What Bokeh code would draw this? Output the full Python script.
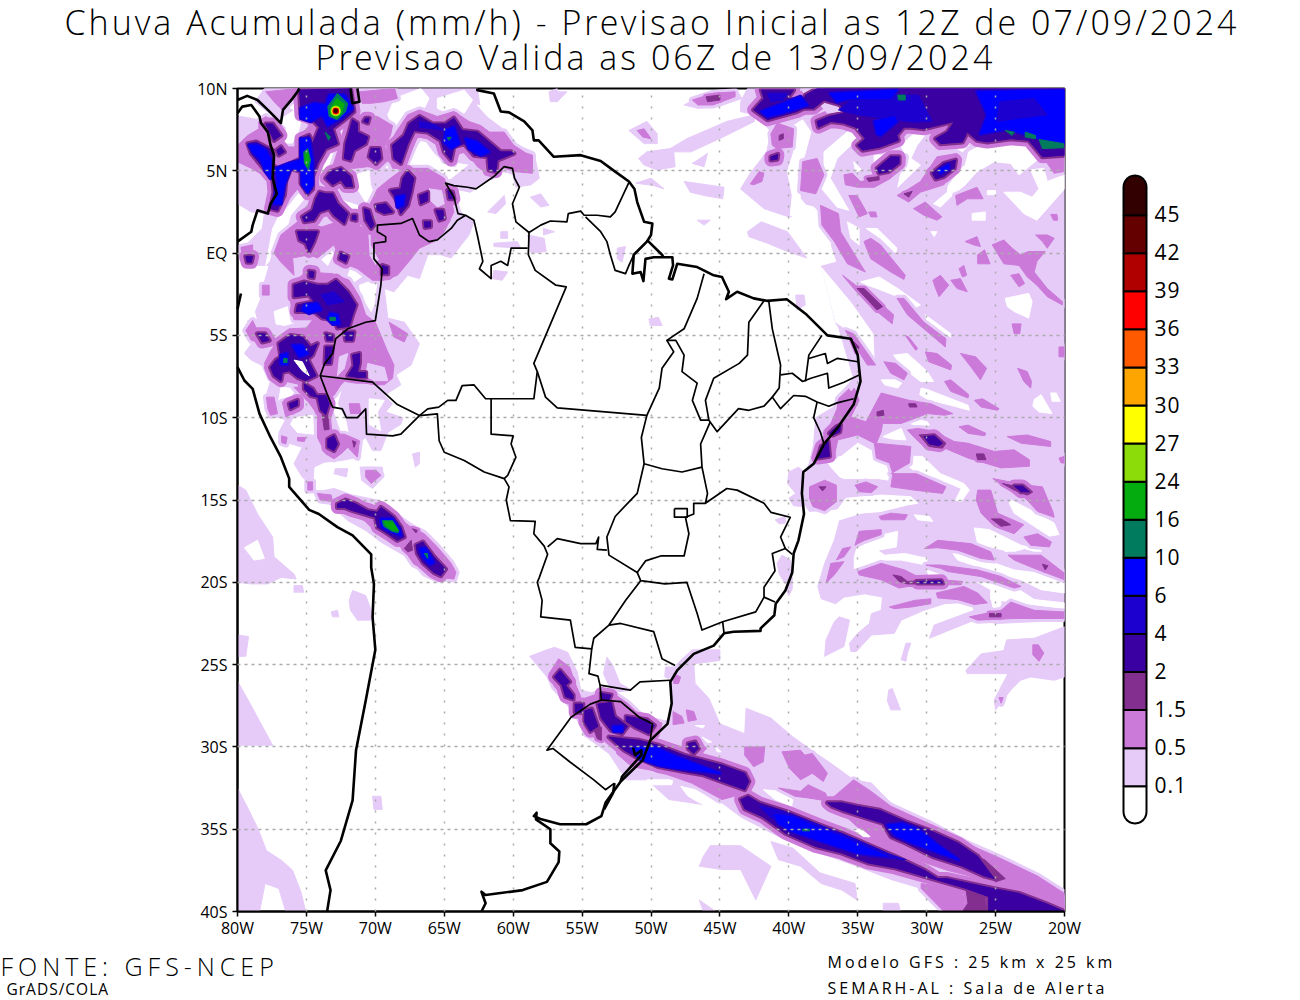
from bokeh.plotting import figure
from bokeh.models import FixedTicker, Label
from bokeh.embed import file_html
from bokeh.resources import INLINE
import math

TITLE_1 = "Chuva Acumulada (mm/h) - Previsao Inicial as 12Z de 07/09/2024"
TITLE_2 = "Previsao Valida as 06Z de 13/09/2024"
X_TICKS = list(range(-80, -19, 5))
X_LABELS = ["80W","75W","70W","65W","60W","55W","50W","45W","40W","35W","30W","25W","20W"]
Y_TICKS = list(range(-40, 11, 5))
Y_LABELS = ["40S","35S","30S","25S","20S","15S","10S","5S","EQ","5N","10N"]
LEVEL_LABELS = ["0.1","0.5","1.5","2","4","6","10","16","24","27","30","33","36","39","42","45"]
LEVEL_COLORS = ["#ffffff","#e6cbf9","#cc7ad9","#832f90","#3a00a2","#1c00d0","#0000ff","#007b5e","#05ac10",
                "#8bdc08","#ffff00","#ffa500","#ff5a00","#ff0000","#b00000","#640000","#320000"]
WHITE, LIGHT, MED, DARK, INDIGO, ROYAL, BLUE, TEAL, GREEN, LIME, YELLOW, ORANGE, DORANGE, RED, CRIM, MAROON, BLACKRED = LEVEL_COLORS

COAST = [
 [(-80,9.3),(-79.3,9.55),(-78.55,9.3),(-77.8,8.7),(-76.85,7.9),(-76.7,8.7),(-76,9.4),(-75.65,9.8),(-75.5,10)],
 [(-80,8.5),(-79.65,8.9),(-79,9),(-78.4,8.3),(-78.3,7.9),(-77.8,7.35),(-77.6,6.55),(-77.35,5.95),(-77.45,4.55),(-77.15,3.6),(-77.6,3),(-77.8,2.4),(-78.55,2.6),(-78.9,1.7),(-79,1.3),(-80,.7)],
 [(-71.8,10),(-71.65,9.1),(-71.15,9.2),(-71.3,10)],
 [(-79.75,-2.45),(-80,-3.4)],
 [(-80,-6.93),(-79.5,-7.74),(-78.9,-8.25),(-78.4,-9.77),(-77.6,-11.2),(-76.85,-12.4),(-76.25,-13.7),(-76.25,-14.2),(-74.8,-15.6),(-74.1,-15.85),(-72.75,-16.65),(-71.65,-17.15),(-70.3,-18.3),(-70.3,-19.1),(-70.1,-20.1),(-70.2,-22.1),(-70,-24.1),(-70.7,-27.2),(-71.4,-30.2),(-71.65,-33.25),(-72.5,-35.7),(-73.6,-37.5),(-73.25,-38.7),(-73.5,-40)],
 [(-62.6,10),(-62.6,9.9),(-61.4,9.7),(-60.9,8.6),(-60.3,8.55),(-59.2,8),(-58.6,7.45),(-58.5,6.85),(-58.15,6.85),(-57.05,5.85),(-55.1,5.95),(-53.65,5.6),(-52.6,4.95),(-51.6,4.35),(-51.2,3.9),(-51,3.1),(-50.5,1.9),(-49.9,1.8),(-50,1.1),(-50.3,.7),(-51.25,-.1),(-51.35,-1.25),(-50.75,-1.15),(-50.55,-1.7),(-50.4,-.35),(-49.8,-.25),(-48.45,-.25),(-48.4,-.75),(-48.7,-1.55),(-48.45,-1.6),(-48.1,-.65),(-46.65,-.85),(-45.45,-1.35),(-44.85,-1.45),(-44.35,-2.35),(-44.55,-2.8),(-43.75,-2.35),(-42.55,-2.75),(-41.6,-2.9),(-40.15,-2.8),(-38.7,-3.75),(-37.2,-5),(-35.5,-5.2),(-35,-6.2),(-34.8,-7.8),(-35.3,-9.2),(-36.5,-10.65),(-37.45,-11.6),(-38.2,-12.8),(-38.95,-13.3),(-39.05,-14.6),(-38.9,-15.85),(-39.3,-17.45),(-39.65,-18.25),(-39.75,-19.4),(-40.25,-20.5),(-40.95,-21.3),(-41.05,-22),(-42.05,-22.8),(-42.05,-22.95),(-44,-23),(-44.7,-23.1),(-45.45,-23.85),(-46.9,-24.35),(-48.1,-25.35),(-48.6,-26.05),(-48.5,-27.36),(-48.8,-28.6),(-50.05,-29.6),(-50.6,-30.8),(-52.2,-32.1),(-53.3,-33.4),(-53.6,-34.2),(-54.7,-34.7),(-56.6,-34.7),(-57.95,-34.4),(-58.5,-34.2),(-58.3,-34),(-58.35,-34.4),(-57.3,-35),(-57.3,-35.85),(-56.65,-36.35),(-56.7,-37),(-57.55,-38.2),(-59.3,-38.7),(-62,-39),(-62.3,-38.8),(-62,-39.5),(-62.3,-40)],
 [(-50.3,.8),(-49.2,-.1),(-49.1,-.25)],
 [(-51.3,-30.05),(-51.15,-30.5),(-50.7,-30.2),(-50.7,-30.5),(-51.45,-31.2),(-52.1,-31.8),(-52.2,-32.1)],
 [(-52.65,-32.2),(-52.75,-32.8),(-53.4,-33.8)],
]
BORDERS = [
 [(-51.6,4.3),(-52.6,2.5),(-52.95,2.2),(-53.9,2.3),(-54.85,2.3),(-55.1,2.55),(-56,2.4),(-56.1,1.9),(-57.3,1.95),(-58,1.7),(-58.85,1.25),(-59.8,1.9),(-60.05,3),(-59.55,4),(-59.9,4.55),(-60.05,5.15),(-60.65,5.25),(-61.4,4.65),(-62.7,3.9),(-63.3,4),(-64.3,4.1),(-64.9,4.25),(-64.3,3.4),(-64,2.4),(-63.45,2.3),(-64.05,2),(-64.5,1.5),(-65.5,.8),(-66.1,.7),(-66.8,1.1),(-67.3,2.1),(-68.15,1.8),(-69.85,1.7),(-69.85,1.3),(-69.25,1),(-69.25,.7),(-70.1,.6),(-70.1,-.35),(-69.5,-.95),(-69.6,-1.95),(-70,-4.1),(-70.7,-4.2),(-72,-4.6),(-72.87,-5.2),(-73.1,-6.1),(-73.7,-6.75),(-74,-7.45),(-73.5,-8.55),(-73.1,-9.36),(-72.4,-9.46),(-72.1,-10),(-71.3,-10),(-70.7,-9.46),(-70.64,-11),(-68.75,-11.1),(-68.15,-11),(-66.8,-9.87),(-65.5,-9.77),(-65.37,-11.4),(-65,-12.1),(-63.55,-12.6),(-62.1,-13.3),(-60.65,-13.7),(-60.3,-14.2),(-60.5,-15),(-60.2,-16.25),(-58.4,-16.3),(-58.5,-17.05),(-57.75,-17.8),(-57.5,-18.3),(-58.1,-19.7),(-58.25,-20),(-57.9,-21.1),(-58,-22.1),(-55.85,-22.3),(-55.5,-23.95),(-54.3,-24.05),(-54.5,-25.55),(-53.85,-25.7),(-53.7,-26.25),(-53.6,-27.15),(-54.4,-27.4),(-55.8,-28.2),(-57.55,-30.2),(-57.1,-30.1),(-55.9,-30.9),(-54.15,-32),(-53.3,-32.6),(-52.65,-32.2)],
 [(-63.45,2.3),(-62.85,2),(-62.6,1.1),(-62.2,-.5),(-62.45,-.95),(-61.6,-1.55),(-61.6,-.75),(-60.9,-.5),(-60.4,-.75),(-60.15,.3),(-58.95,.3)],
 [(-58.85,1.25),(-58.9,-.1),(-58.4,-1.05),(-56.9,-1.95),(-56.15,-2.05),(-58.5,-6.7),(-58.25,-7.2),(-58.5,-8.85),(-62,-8.85),(-62.85,-8),(-63.7,-8.05),(-64.15,-8.95),(-64.75,-8.95),(-65.4,-9.36),(-66.2,-9.46),(-66.8,-9.87)],
 [(-74,-7.45),(-70.2,-7.84),(-68.4,-9.2),(-66.8,-9.87)],
 [(-61.6,-8.85),(-61.6,-11),(-60,-11.1),(-60.15,-11.6),(-59.8,-12.4),(-60.4,-13.5),(-60.65,-13.7)],
 [(-58.25,-7.2),(-57.65,-8.75),(-56.8,-9.4),(-50.3,-9.86),(-49.4,-8.2),(-49.2,-7),(-48.35,-6),(-48.85,-5.3),(-47.6,-4.6),(-46.65,-2.75),(-46.15,-1.25)],
 [(-54.75,2.2),(-53.65,1.3),(-53.2,.7),(-52.95,-.1),(-52.6,-1.05),(-51.85,-1.25),(-51.6,-.75),(-51.25,-.1)],
 [(-48.85,-5.3),(-48.2,-5.3),(-47.6,-6.2),(-47.75,-7.2),(-46.65,-7.9),(-47,-8.95),(-46.4,-10.15),(-45.8,-10.15)],
 [(-41.8,-2.9),(-42.9,-4.2),(-43,-6.2),(-43.6,-6.7),(-45.45,-7.6),(-46.05,-8.95),(-45.8,-10.15)],
 [(-41.45,-2.95),(-41.2,-4.6),(-40.6,-6.8),(-40.7,-8.2),(-41.2,-8.75)],
 [(-45.8,-10.15),(-45.2,-10.85),(-43.65,-9.45),(-42.9,-9.55),(-41.8,-9.3),(-41.2,-8.75),(-40.6,-9.45),(-39.65,-8.65),(-38.8,-8.7),(-37.95,-9.05),(-37.1,-9.3),(-36.5,-9.1),(-35.3,-8.85)],
 [(-40.6,-7.4),(-39.75,-7.3),(-39,-7.8),(-38.4,-7.6),(-37.2,-7.3),(-37.1,-8.2),(-36,-7.85),(-34.9,-7.4)],
 [(-38.8,-7.8),(-38.55,-6.2),(-37.6,-5)],
 [(-38.55,-6.4),(-37.35,-6.1),(-37.2,-6.7),(-36.5,-6.4),(-35,-6.6)],
 [(-37.95,-9.05),(-38.2,-10),(-37.7,-10.9),(-37.45,-11.6)],
 [(-45.7,-10.25),(-46.4,-11.6),(-46.3,-13),(-45.9,-14.6),(-46.05,-15.2),(-44.5,-14.3),(-43.75,-14.4),(-41.8,-15.2),(-41.3,-15.75),(-39.9,-16.05),(-40.6,-17.25),(-40.25,-17.95),(-39.75,-18.3)],
 [(-50.3,-9.86),(-50.7,-11.2),(-50.5,-12.8),(-51,-14.6),(-51.7,-15.2),(-52.6,-16),(-53.2,-17.25),(-53.05,-18.35),(-51,-19.4),(-50.4,-18.7),(-49.3,-18.4),(-47.6,-18.4),(-47.25,-17.05),(-47.5,-16.05),(-46.9,-15.85),(-46.9,-15.2),(-46.05,-15.2)],
 [(-50.5,-12.8),(-49.2,-13.1),(-47.75,-13.3),(-46.3,-13)],
 [(-40.25,-17.95),(-41.2,-18.25),(-41,-19.3),(-41.8,-20.3),(-41.8,-20.9),(-42.4,-21.8),(-44.8,-22.4),(-46.3,-22.9),(-46.65,-21.9),(-47.4,-20),(-49,-20.1),(-50.75,-19.9),(-51,-19.4)],
 [(-41.8,-20.9),(-41,-21.2)],
 [(-44.8,-22.4),(-44.7,-23.1)],
 [(-50.75,-19.9),(-51.85,-21.1),(-53.05,-22.6),(-54.15,-23.4),(-54.3,-24.05)],
 [(-53.05,-22.6),(-52.2,-22.5),(-49.8,-23),(-49.2,-24.65),(-48.25,-25.05)],
 [(-57.5,-17.85),(-56.8,-17.35),(-55.1,-17.65),(-54,-17.65),(-53.8,-17.25),(-53.9,-18),(-53.2,-18.05)],
 [(-53.7,-26.25),(-51.5,-26.55),(-50.8,-26.05),(-48.6,-25.95)],
 [(-53.6,-27.15),(-52.2,-27.25),(-50.85,-28.2),(-49.9,-28.6),(-50.05,-29.6)],
 [(-48.3,-15.53),(-47.37,-15.53),(-47.37,-16.04),(-48.3,-16.04),(-48.3,-15.53)],
]

LIGHT_SHAPES = [
 [(-43,10),(-20,10),(-20,-22.3),(-24.85,-22.5),(-26.55,-22.3),(-29.8,-23.4),(-29.45,-22.6),(-26.55,-21.7),(-26.8,-21.2),(-28.7,-21.3),(-30.2,-21.7),(-31.85,-22.3),(-32.35,-23.1),(-34,-23.2),(-35.1,-24.2),(-35.5,-24.2),(-35.6,-23.7),(-35,-23.1),(-34.15,-22.5),(-34,-21.9),(-33.3,-21.7),(-33.2,-20.9),(-34.5,-20.7),(-36,-20.9),(-36.6,-21.3),(-37.65,-21),(-37.9,-20.25),(-37.4,-18.85),(-36.7,-17.45),(-36.3,-16.2),(-36,-15.5),(-38.5,-15.7),(-38.9,-15.2),(-38.9,-13.8),(-38.6,-12.9),(-37.65,-11.75),(-37.4,-11.4),(-36.4,-10.5),(-35.3,-9.2),(-34.8,-7.8),(-35,-6.2),(-36.6,-4.25),(-37.6,-.85),(-38.8,1),(-38.8,2.3),(-40,2.2),(-41.8,2.7),(-43.5,3.9),(-42.8,4.85),(-41.6,6.15),(-41.3,7.4),(-42.5,8.4),(-43.5,8.6),(-43.5,9.2)],
 [(-43,1.3),(-42,1.9),(-40.1,1.3),(-38.7,-.3),(-40.1,.1),(-41.55,.6),(-42.9,1)],
 [(-47.6,9),(-46.2,9.6),(-43.8,9.9),(-43.4,9.4),(-45.1,8.9),(-46.6,8.8)],
 [(-50.9,5.75),(-50.3,6.15),(-48.6,6.35),(-47.4,6.95),(-44.5,8),(-42.5,8.4),(-42.5,8),(-44.9,7),(-47.1,6.15),(-48.35,6.15),(-48.25,5.25),(-49.55,5.05),(-50.5,5.35)],
 [(-47,5.45),(-45.9,6.05),(-46.15,5.25)],[(-47.6,4.35),(-44.7,4),(-44.8,3.3),(-46.15,3.5),(-47.15,3.7)],
 [(-46.65,2),(-45.7,2),(-46.15,1.7)],[(-51.6,7.45),(-50.3,8),(-49.55,7.25),(-49.55,6.65),(-50.5,6.65)],
 [(-51.1,4.25),(-50,4.55),(-49.05,3.9),(-49.8,4.1)],[(-50.15,-4),(-49.45,-3.9),(-49.2,-4.4),(-50.05,-4.4)],
 [(-57.3,9.8),(-56.1,9.8),(-56.8,9.2),(-57.3,9.3)],[(-39.5,-2.55),(-38.9,-2.55),(-38.8,-3.15),(-39.4,-3.45)],
 [(-36.5,-4.2),(-35.5,-4.8),(-33.8,-6.6),(-34.6,-8),(-35.3,-7.6)],
 [(-37.7,-10.9),(-36.8,-9.45),(-36.3,-8.55),(-35.3,-7.6),(-34.9,-7.8),(-35.3,-9.2),(-36.5,-10.7)],
 [(-38.05,-10),(-36.75,-9.35),(-36.25,-8.95),(-36.25,-10.35),(-37.2,-11.3),(-38.05,-11.8),(-38.2,-12.8),(-38.55,-12.9),(-38.2,-11.6)],
 [(-40,-13.3),(-39.3,-13),(-38.9,-13.3),(-39.15,-14.8),(-39.05,-15.4),(-39.65,-15.35),(-40,-14.9),(-39.5,-14.6),(-40.1,-14)],
 [(-41,-16.2),(-40.25,-16),(-40.25,-16.4),(-40.7,-16.45)],
 [(-40.85,-18.85),(-40.5,-18.35),(-39.9,-18.65),(-39.75,-19.5),(-40.25,-20.1),(-40.7,-19.5)],
 [(-40.25,-20.3),(-39.75,-19.7),(-39.75,-20.4),(-40,-20.8)],
 [(-37.4,-24.5),(-37.3,-23.5),(-36.7,-22.4),(-36.35,-22.1),(-35.6,-22.3),(-36,-23.9),(-36.95,-24.3)],
 [(-31.85,-24.7),(-31.5,-23.7),(-31.15,-23.7),(-31.4,-24.3),(-31.5,-24.8)],
 [(-27.15,-25.35),(-26.05,-24.35),(-24.4,-24.15),(-24.2,-23.5),(-22.2,-23.4),(-20,-22.7),(-20,-25.75),(-20.75,-25.95),(-22.45,-25.75),(-23.2,-25.95),(-23.85,-26.5),(-25,-27.75),(-25.1,-27.15),(-24.1,-25.55),(-26.05,-25.55),(-27.05,-25.55)],
 [(-32.75,-26.55),(-32.5,-26.45),(-31.9,-27.75),(-32.6,-27.75),(-32.85,-27.2)],
 [(-48.4,-25.35),(-48,-24.85),(-47,-24.1),(-45,-24.1),(-45,-24.75),(-46.9,-24.95),(-46.8,-26.15),(-45.8,-27.05),(-45,-28.6),(-43.2,-29.2),(-43.1,-27.65),(-41.3,-28.25),(-39.7,-29.4),(-38,-30.4),(-36.95,-31),(-35.3,-32),(-34,-32.2),(-32.6,-33.4),(-29.85,-34.55),(-27.15,-35.65),(-24.7,-36.65),(-22.25,-37.65),(-20,-39.05),(-20,-40),(-28.75,-40),(-30.4,-38.6),(-32.6,-38.05),(-35.05,-37.25),(-37.75,-36.45),(-40.75,-35.45),(-43.5,-34.25),(-44.85,-33.4),(-46.25,-33.5),(-48.7,-33.2),(-50.3,-32),(-51.7,-32),(-50.6,-30.8),(-50,-29.5),(-48.8,-28.6),(-48.5,-27.3)],
 [(-58.8,-24.5),(-57.55,-24.1),(-57,-23.95),(-56.05,-24.25),(-55.35,-25.45),(-55.1,-26.55),(-54.15,-26.75),(-53.6,-26.45),(-52.9,-26.65),(-52.9,-27.15),(-51.7,-27.35),(-50.7,-28.15),(-49.5,-28.6),(-48.55,-28.25),(-48.8,-30),(-50.6,-31),(-51.8,-32),(-53.05,-30.4),(-54.7,-29.4),(-55.9,-27.55),(-57.15,-26.15)],
 [(-53.45,-25.55),(-53.2,-24.55),(-52.8,-25),(-52.25,-26.15),(-51.4,-26.55),(-52.25,-26.65),(-52.9,-26.55)],
 [(-48.95,-25.15),(-48.25,-25.15),(-48.7,-25.85),(-49,-25.75)],
 [(-45.7,-36),(-43.5,-36),(-41.3,-37.25),(-42.4,-39.3),(-43.5,-37.45),(-44.85,-37.45),(-46.5,-37.25),(-46.2,-36.65)],
 [(-41.3,-35.75),(-39.7,-36.15),(-37.75,-37.65),(-35.2,-38.3),(-35.05,-39.3),(-36.15,-38.7),(-37.65,-38.3),(-39.15,-37.25),(-40.75,-36.85)],
 [(-46.5,-39.3),(-45.3,-40),(-46.2,-40)],[(-33.15,-39.5),(-32.05,-39.5),(-31.9,-40),(-33.15,-40)],
 [(-80,-14.1),(-79.4,-14.4),(-78.55,-15.85),(-77.45,-17.25),(-77.35,-18.45),(-75.9,-19.5),(-75.75,-19.8),(-76.85,-19.7),(-77.8,-20.1),(-79,-20.1),(-80,-20)],
 [(-75.9,-20.2),(-75.3,-20.2),(-75.2,-20.6),(-75.9,-20.6)],
 [(-71.9,-21.1),(-71.65,-20.5),(-70.7,-20.8),(-70.3,-21.7),(-70.3,-22.3),(-71.3,-22.3),(-71.8,-21.7)],
 [(-73.2,-21.8),(-72.75,-21.7),(-72.65,-22.1),(-73.1,-22.1)],
 [(-80,-26),(-79.2,-27.2),(-77.45,-29.9),(-80,-29.9)],[(-80,-23.2),(-79.2,-23.3),(-79.4,-24.5),(-80,-24.5)],
 [(-80,-32.5),(-79.2,-33.8),(-78.5,-35),(-77.9,-36.3),(-76.8,-36.9),(-76,-37.5),(-75.4,-38.8),(-75.05,-40),(-76.5,-40),(-77,-38.6),(-78,-38.3),(-78.4,-40),(-80,-40)],
 [(-70.2,-33),(-69.6,-33),(-69.5,-33.8),(-70.1,-33.8)],
 [(-74.2,-14.5),(-73,-14.3),(-71.65,-14.7),(-69.85,-15),(-68.4,-15.85),(-67.4,-16.65),(-66.2,-17.25),(-64.9,-18.45),(-64.05,-19.3),(-64.05,-19.7),(-65.5,-20),(-66.55,-19.6),(-67.65,-18.5),(-69.6,-17.55),(-70.7,-16.85),(-72,-16.25),(-73.35,-15.25),(-74.2,-14.85)],
 [(-72.9,-13.1),(-72,-13.1),(-72.1,-13.6),(-73,-13.4)],
 [(-71.1,-13),(-69.5,-13),(-69.4,-13.6),(-70.2,-14.3),(-71,-13.8)],
 [(-67.3,-12.2),(-66.8,-12.1),(-66.8,-12.8),(-67.1,-13)],
 [(-78.05,10),(-62.6,10),(-62.4,8.9),(-60.65,7.8),(-59.7,6.55),(-58.5,6.15),(-58.1,4.55),(-58.7,4.15),(-59.8,4),(-60.05,4.85),(-60.9,4.95),(-62.2,4.25),(-63.1,3.7),(-64.3,3.9),(-63.8,2.5),(-62.85,1.9),(-63.2,1.1),(-64.5,-.3),(-65.25,-.1),(-66.2,-.1),(-66.8,-1.55),(-67.65,-1.35),(-68.65,-2.35),(-69.35,-2.15),(-69.1,-3.95),(-67.9,-4.2),(-66.8,-5.5),(-67.4,-6.8),(-68.5,-7.4),(-68.15,-8),(-69.35,-8.65),(-68.75,-9.15),(-69.25,-9.65),(-68,-10),(-68.15,-10.4),(-69.1,-10.9),(-69.6,-12),(-70.2,-12),(-70.7,-11.2),(-71.3,-11.6),(-71.15,-12.4),(-72.5,-12.6),(-73.7,-12.7),(-74.45,-13),(-74.55,-14.2),(-75.3,-13.6),(-75.9,-12.8),(-75.3,-11.8),(-76.85,-11.4),(-77,-10.9),(-76.5,-10.1),(-77.8,-9.85),(-77.95,-8.75),(-77.6,-7.75),(-77.8,-7),(-79,-6.5),(-79.5,-6.1),(-78.9,-5.4),(-79.4,-5.1),(-79.25,-4.1),(-78.55,-4),(-78.7,-3.55),(-78.2,-2.55),(-78.05,-1.75),(-77.7,-.75),(-79,-.75),(-79.65,-.35),(-79.15,.7),(-78.2,1.5),(-78.05,2.4),(-79,2.5),(-80,3),(-80,8.2),(-79.3,8.5)],
 [(-58.75,3.4),(-58,3.6),(-57.4,2.9),(-58,2.8)],[(-61.85,2.5),(-60.65,3.5),(-60.55,3),(-61.25,2.4)],
 [(-61.4,.6),(-59.7,.7),(-59.45,.3),(-61.4,.4)],[(-58.95,1.1),(-57.75,.9),(-57.6,.1),(-58.7,0)],
 [(-61.4,-1.05),(-60.4,-1.15),(-60.8,-1.65),(-61.5,-1.55)],[(-52.45,.3),(-51.85,.4),(-52.1,-.55),(-52.45,-.35)],
 [(-57.8,1.5),(-57,1.3),(-57.8,1.1)],[(-60.9,1.3),(-60.4,1.3),(-60.4,.9),(-60.9,.9)],
 [(-57.4,9.8),(-56.8,10),(-56.8,9.2),(-57.3,9.2)],
]

WHITE_GAPS = [
 [(-76.15,9.2),(-74.8,9.5),(-74.55,9.1),(-75.65,8.6),(-76.15,8.8)],
 [(-80,9.3),(-79,9.3),(-77.8,8.5),(-76.85,7.8),(-78.05,8.1),(-80,8.4)],
 [(-76.75,8.2),(-75.65,8.8),(-75.4,8),(-75.65,7.15),(-76.25,6.45),(-76.85,6.95),(-77,7.75)],
 [(-72,7.4),(-72.75,6.15),(-73.6,4.95),(-74.3,4.15),(-74.05,5.15),(-73,6.55),(-72.25,7.75)],
 [(-75.75,3.7),(-75.15,3.3),(-76.15,2.3),(-76.5,1.3),(-77.35,.5),(-77.7,-.5),(-77.95,-.75),(-77.45,1.5),(-76.85,2.5),(-76.35,2.9)],
 [(-68.6,9.4),(-66.7,10),(-66.1,9.4),(-66.45,8.8),(-67.4,8.4),(-68.6,7.4),(-69.1,8.4)],
 [(-65.5,9.4),(-63.55,9.9),(-62.95,9.3),(-63.55,8.5),(-65,8.6),(-65.5,8.8)],
 [(-62.6,9),(-60.9,8.6),(-60.3,7.75),(-59.8,6.55),(-60.65,7.55),(-61.85,8.3)],
 [(-67.55,5.75),(-66.55,6.95),(-65.75,6.05),(-65,5.45),(-64.05,5.45),(-63.3,5.35),(-64.5,4.55),(-65.25,4.35),(-65.75,5.15),(-66.95,5.25),(-67.8,5.25)],
 [(-69.3,6.1),(-68.9,5.95),(-69.1,5.15),(-69.6,5.45)],[(-71.4,4.75),(-70.45,5.05),(-70.35,4.15),(-69.95,3.2),(-70.7,3.1),(-71.3,3.9)],
 [(-73.95,1.1),(-73,1.7),(-72,1.3),(-71.55,1),(-71.65,.5),(-72.75,.5),(-73.45,-.75),(-73.95,-.35)],
 [(-72.75,3.3),(-71.3,2.9),(-70.8,2.1),(-71.55,2.7),(-72.25,2.8)],[(-67.3,2.7),(-66.6,2.2),(-66.35,1.3),(-66.95,1.7)],
 [(-68.65,.8),(-68.4,.5),(-68.75,-.3),(-69,.1)],[(-71.15,-1.95),(-69.85,-1.55),(-70.1,-3.15),(-70.3,-3.55),(-71.05,-2.55)],
 [(-77.35,-3.55),(-76.35,-3.25),(-75.75,-4.2),(-76.6,-4.4),(-77.2,-4.3)],[(-71.65,-.65),(-70.7,-1.25),(-71.55,-1.75),(-72,-1.35)],
 [(-76.85,-8.15),(-75.75,-8.25),(-76.25,-8.85),(-76.6,-9.55),(-77,-8.95)],
 [(-73.2,-8.15),(-72.5,-8.35),(-72.75,-9.15),(-72.15,-10.15),(-71.9,-11.2),(-72.5,-10.8),(-73.1,-9.35)],
 [(-75.9,-10),(-74.55,-9.85),(-74.45,-11),(-75.65,-10.9),(-76.15,-10.4)],[(-70.45,-8.85),(-69.35,-8.95),(-69.85,-9.65),(-69.6,-10.8),(-70.45,-10.4)],
 [(-79.5,-17.9),(-78.55,-17.45),(-78.05,-18.55),(-78.8,-18.65)],
 [(-39,8.1),(-38.4,7.35),(-38.85,5.95),(-39.4,4.75),(-39.15,3.3),(-38.55,2.7),(-39.65,2.2),(-39.9,2.3),(-39.75,3.5),(-40.1,4.95),(-39.65,6.15),(-39.65,7.75)],
 [(-37.45,6.15),(-35.5,7.55),(-35,6.95),(-36.5,5.75),(-37,4.55),(-35.65,2.6),(-36.5,2.8),(-37.7,4),(-37.45,5.15)],
 [(-39.15,3),(-38.2,2.8),(-36.5,1.3),(-37,.5),(-36.6,-.5),(-37.7,-.75),(-38.55,-.2),(-39.75,1.4),(-40.6,1.5),(-40.6,2.1),(-39.65,2.1)],
 [(-35.75,1.9),(-34.9,1.5),(-34.9,.5),(-35.5,.9)],[(-34.4,1.5),(-33.6,1.5),(-32.15,.3),(-32.25,0),(-33.35,.9)],
 [(-35.3,5.55),(-34.7,5.05),(-35.15,4.95)],[(-33.8,5.95),(-33.1,5.95),(-33.1,5.45),(-33.8,5.45)],
 [(-31.9,6.55),(-30.2,7.75),(-29.95,7.35),(-30.7,6.55),(-31.15,5.75),(-30.45,5.35),(-32.1,4),(-31.8,5.15),(-31.4,5.75)],
 [(-27.8,6.35),(-27.3,6.85),(-26.95,6.55),(-27.4,6.15)],
 [(-29.5,3),(-28.5,3.7),(-28.4,4.45),(-27.2,5.35),(-26.95,6.15),(-25.85,6.65),(-24.65,6.85),(-22.6,6.45),(-21.85,5.75),(-23.3,4.75),(-23.9,5.45),(-25.1,5.55),(-26.35,4.95),(-27.2,4.15),(-28.15,3.5),(-29,2.8)],
 [(-24.4,3.7),(-23.2,3.7),(-22.35,3.4),(-21.85,3.9),(-22.45,5.05),(-21.5,5.15),(-21.25,4.35),(-20,4.75),(-20,3.9),(-22,2),(-22.95,2.4)],
 [(-26.7,2.4),(-25.75,2.5),(-25.75,2),(-26.7,2)],[(-25.6,3.8),(-25,3.8),(-25,3.55),(-25.6,3.55)],[(-29.7,1.3),(-29.25,1.3),(-29.45,1)],
 [(-24.3,-2.75),(-22.6,-2.45),(-22.35,-2.95),(-22.6,-3.95),(-23.65,-3.55),(-24.15,-3.25)],
 [(-34.8,-1.75),(-33.45,-1.45),(-32.1,-2.15),(-30.45,-3.15),(-30.95,-3.35),(-32.4,-2.55),(-33.6,-2.15),(-34.3,-1.95)],
 [(-30.1,-3.75),(-28.25,-4.9),(-28.25,-5.1),(-29.95,-4.2)],[(-32.4,-6.2),(-31.4,-6.1),(-29.95,-7.2),(-29.5,-7.8),(-30.45,-7.8),(-31.65,-7)],
 [(-36.5,-2),(-35.5,-3),(-33.9,-4.9),(-33.8,-6.6),(-35.5,-4.8),(-36.6,-4.2),(-37.6,-.9)],
 [(-33.3,-7.7),(-31.6,-7.7),(-32.1,-8.2),(-33.05,-8)],[(-30.4,-8.2),(-29.9,-8.3),(-27,-9.25),(-26.9,-9.55),(-28.25,-9.25),(-29.9,-8.9),(-30.5,-8.6)],
 [(-22.2,-8.9),(-21.7,-8.6),(-20.9,-9.75),(-21.85,-9.65),(-22.3,-9.3)],[(-31.4,-9.95),(-29.95,-10.25),(-29.8,-10.45),(-30.9,-10.45),(-31.5,-10.25)],
 [(-33.2,-11.15),(-31.85,-10.65),(-31.5,-11.35),(-32.45,-11.3)],
 [(-36.2,-12.35),(-35,-11.55),(-33.9,-12.05),(-32.45,-13),(-32.7,-13.8),(-33.55,-13.7),(-36,-13.7),(-36.3,-13.6),(-36.95,-13),(-37.3,-12.55)],
 [(-38.25,-15.8),(-36.55,-15.7),(-35.85,-14.9),(-33.3,-14.7),(-31.15,-14.8),(-30.65,-15.2),(-31.4,-15.3),(-33.3,-15.7),(-34.75,-15.8),(-36.3,-16.2)],
 [(-31,-12.35),(-30.3,-12.35),(-29,-13.4),(-27.3,-14),(-26.9,-14.4),(-27.5,-15.1),(-27.9,-15),(-27.5,-14.3),(-29.45,-13.6),(-30.8,-13.3),(-31.4,-12.9)],
 [(-30.9,-15.9),(-29.8,-16),(-29.55,-16.3),(-30.65,-16.2)],
 [(-35.25,-18.45),(-34.9,-17.45),(-32.1,-16.9),(-32.2,-17.85),(-33.55,-18.05),(-33.05,-18.35),(-31.6,-18.25),(-29.95,-18.55),(-30.05,-18.95),(-31.85,-18.65),(-33.3,-18.65),(-34.3,-19.35),(-35.25,-19.15)],
 [(-26.55,-16.7),(-25.45,-16.8),(-23.15,-17.75),(-21.7,-18.05),(-21.7,-18.25),(-22.9,-17.95),(-24.15,-18.25),(-24.4,-18.05),(-26.3,-17.65)],
 [(-23.9,-15),(-23.4,-15.2),(-22.7,-15.5),(-20.75,-16.4),(-20.4,-17.1),(-21.1,-17.2),(-23.65,-15.8),(-24,-15.2)],
 [(-28.1,-18.25),(-27.5,-18.2),(-25.35,-18.75),(-23.65,-19.25),(-21.7,-19.45),(-20,-20.05),(-20,-20.65),(-21.7,-20.45),(-23.15,-19.85),(-25.6,-19.25),(-27.75,-18.65)],
 [(-30,-19.25),(-29,-19.55),(-29.8,-19.65)],
 [(-26.3,-20),(-23.65,-20.25),(-22.2,-21.05),(-20,-21.25),(-20,-21.6),(-23.65,-21.2),(-25.35,-21.05),(-25.35,-20.45)],
 [(-29,-20.35),(-27.6,-20.45),(-28.5,-20.65)],[(-25.3,-21.05),(-24.6,-21.15),(-24.65,-21.7),(-25.2,-21.5)],
 [(-21,-8.5),(-20.6,-8.5),(-20.3,-9),(-20.9,-9)],
 [(-50.3,-32),(-48.4,-32),(-48.5,-32.3),(-50.05,-32.3)],[(-47.85,-32.4),(-46.75,-32.6),(-44.85,-33.6),(-46.25,-33.5),(-47.3,-33)],
 [(-41.85,-32.6),(-40.5,-32.7),(-39.7,-33.2),(-39.8,-33.6),(-41,-33.2)],
]

MEDIUM_SHAPES = [
 [(-69.25,6.15),(-68.5,7.35),(-67.65,8.4),(-66.8,8.7),(-65.5,8.3),(-64.3,8.6),(-63.2,8),(-62.35,7.75),(-61.4,7.15),(-60.15,6.65),(-59.2,6.15),(-59.45,5.65),(-60.4,5.65),(-60.9,5.15),(-61.4,4.75),(-62.2,5.25),(-63.05,5.65),(-63.3,6.15),(-63.9,6.05),(-64.3,5.45),(-65,5.65),(-65.5,6.55),(-66.2,6.95),(-66.95,7.05),(-67.4,6.15),(-67.9,5.15),(-68.75,5.15)],
 [(-69.85,3.9),(-68.9,4.55),(-67.9,5.15),(-66.2,5.15),(-65,4.55),(-64.5,3.3),(-64.3,2.5),(-65,1.3),(-65.75,.7),(-66.8,.3),(-67.4,-.35),(-68.4,-1.35),(-69.1,-1.55),(-69.6,-.55),(-70.3,.5),(-70.3,1.5),(-70.55,2.7)],
 [(-76.85,1.1),(-75.65,1.9),(-74.2,1.5),(-72.75,1.9),(-71.8,2.1),(-70.55,1.3),(-70.45,-.15),(-69.85,-.95),(-69.35,-1.65),(-70.2,-1.65),(-71.3,-.95),(-72.5,-.55),(-73,.5),(-74.2,-.3),(-74.8,-.1),(-76,-.3),(-75.9,-1.35),(-76.85,-.55),(-77.35,0)],
 [(-71.15,9.8),(-68.6,10),(-68.4,9.4),(-69.35,9.2),(-70.3,9.1),(-70.95,9.1)],
 [(-72.5,8),(-71.05,8.4),(-69.85,8.3),(-68.75,7.75),(-68.9,7.15),(-69.35,6.45),(-69,5.65),(-69.85,5.15),(-70.55,5.25),(-71.55,5.15),(-73.1,5.25),(-72.75,6.15),(-72,7.75)],
 [(-80,6.55),(-79.25,7.15),(-78.45,7.55),(-78.45,8),(-77.95,8.3),(-76.75,7.55),(-76.85,6.45),(-75.65,6.45),(-75.4,7.15),(-74.3,8.3),(-74.45,4.35),(-75.65,3.9),(-77,2.5),(-77.7,2.5),(-77.45,3.5),(-77.95,4.65),(-79,5.15),(-80,5.55)],
 [(-77.95,9.8),(-75.65,10),(-75.9,9.4),(-76.75,8.7),(-77.35,9.2)],
 [(-76.15,-1.95),(-75.05,-1.15),(-73.1,-1.25),(-71.9,-1.65),(-71.15,-2.65),(-70.7,-3.75),(-70,-4.2),(-69.1,-6),(-68.65,-6.8),(-68.75,-7.6),(-69.35,-8),(-70.1,-8),(-70.7,-7.9),(-72,-7.6),(-72.5,-8),(-73,-8.65),(-75.3,-8),(-75.9,-7.9),(-77.6,-7.6),(-78.05,-6.7),(-77.6,-5.95),(-76.85,-5),(-76.25,-4.6),(-75,-4.55),(-74.55,-4.05),(-75.9,-4.05),(-76.15,-3)],
 [(-75.15,-8.15),(-74.05,-8.35),(-74.05,-9.55),(-73.6,-11),(-73.1,-11),(-72.25,-11),(-71.15,-11.4),(-71.3,-12.4),(-72,-11.8),(-72.5,-12.2),(-73,-12.5),(-73.6,-12.2),(-74.2,-11.2),(-74.2,-9.8),(-74.9,-9),(-75.9,-8.15)],
 [(-77.9,-8.75),(-77.35,-8.75),(-77.1,-9.75),(-77.6,-9.85),(-77.8,-9.45)],[(-76.75,-9.05),(-75.75,-8.85),(-75.4,-9.15),(-76,-9.75),(-76.5,-9.95)],
 [(-75.65,-11.2),(-75.05,-11.2),(-75.15,-11.45),(-75.65,-11.4)],[(-76.8,-11.1),(-76.4,-11.2),(-76.5,-11.6),(-76.8,-11.5)],
 [(-70.7,-13.2),(-69.95,-13.2),(-69.6,-13.5),(-70.3,-14),(-70.7,-13.6)],[(-71.9,-9.15),(-71.15,-9.15),(-71.05,-9.75),(-71.8,-9.75)],
 [(-69,-4.2),(-68.4,-4.5),(-67.65,-4.9),(-67.9,-5.4),(-68.65,-5.1)],[(-79.4,-4.7),(-78.9,-4.1),(-78.55,-4.7),(-77.8,-5.1),(-77.8,-5.7),(-78.55,-5.4),(-79,-5.3)],
 [(-78.2,-1.95),(-77.7,-1.95),(-77.7,-2.55),(-78.2,-2.55)],[(-79.75,.35),(-78.9,.5),(-78.9,-.75),(-79.65,-.35)],
 [(-62.6,7.35),(-60.65,7.35),(-59.7,6.25),(-58.6,5.95),(-58.6,4.85),(-59.9,4.95),(-60.9,5.25),(-61.4,5.05),(-61.6,4.65),(-62.6,5.25),(-62.95,5.65)],
 [(-74.9,-13.9),(-74.55,-13.9),(-74.55,-14.4),(-74.9,-14.4)],[(-74.2,-14.6),(-73.2,-14.7),(-73.1,-15.1),(-74,-15)],
 [(-72.85,-15.15),(-72,-14.85),(-70.3,-15.25),(-68.75,-15.85),(-67.4,-16.65),(-66.45,-17.05),(-65.5,-17.85),(-64.5,-18.85),(-64.15,-19.4),(-64.3,-19.8),(-65.5,-19.7),(-66.2,-19.3),(-67.2,-18.9),(-67.9,-18.05),(-68.65,-17.55),(-69.85,-17.05),(-70.8,-16.25),(-71.8,-15.85),(-72.75,-15.55)],
 [(-51,7.45),(-50.5,7.55),(-50,6.95),(-50.6,7.05)],
 [(-47,9.3),(-45.5,9.7),(-43.9,9.8),(-43.9,9.5),(-45.5,9),(-46.6,9)],
 [(-42.8,4.2),(-42.15,4.95),(-41.8,4.85),(-41.95,4.35),(-42.55,4.15)],
 [(-41.7,5.75),(-41.35,6.15),(-40.7,6.25),(-40.35,5.85),(-40.7,5.45),(-41.45,5.45)],
 [(-41.3,7.25),(-40.85,7.9),(-39.65,7.55),(-39.75,6.45),(-40.85,6.35),(-41.2,6.55)],
 [(-39,5.55),(-37.95,5.75),(-37.45,4.75),(-38.05,3.6),(-39.15,3.8)],
 [(-37.7,2.9),(-36.4,2.4),(-36.25,1.3),(-34.45,-1.15),(-35.75,-.65),(-36.7,.7),(-37.6,1.7)],
 [(-35.65,3.5),(-35.05,3.5),(-34.3,2.4),(-34.9,2.2)],[(-34.2,2.5),(-33.7,2.5),(-33.6,2.2),(-34.05,2.2)],
 [(-34.55,.7),(-34.05,.9),(-33.35,.5),(-31.55,-1.35),(-31.65,-1.6),(-32.6,-1.15),(-34.05,-.35)],
 [(-36.1,-1.35),(-35.15,-1.95),(-33.45,-2.95),(-32.4,-3.75),(-32.5,-4.3),(-33.6,-3.55),(-35.3,-2.15)],
 [(-32.15,-2.75),(-31.65,-2.75),(-30.2,-4.2),(-28.6,-5.2),(-28.65,-5.7),(-30.2,-4.6),(-31.4,-3.75)],
 [(-31.55,-5),(-31.3,-5.1),(-30.65,-5.8),(-30.8,-5.9)],[(-33.1,-6.6),(-32.25,-6.7),(-31.4,-7.3),(-31.65,-7.7),(-32.6,-7.3)],
 [(-35.9,-4.7),(-35.3,-4.9),(-33.7,-6.8),(-34.3,-6.8),(-35.15,-5.7)],[(-30.1,-6),(-29.25,-6.1),(-28.2,-6.8),(-28.25,-7.1),(-29.85,-6.6)],
 [(-27.55,-6.1),(-26.45,-6.3),(-25.65,-7),(-26.1,-7.7),(-26.8,-6.9)],[(-23.4,-7),(-22.7,-7.2),(-22.4,-7.8),(-22.45,-8.2),(-22.95,-7.8)],
 [(-20.4,-5.7),(-20,-5.7),(-20,-6.3),(-20.4,-6.3)],[(-29.55,-1.65),(-29,-1.35),(-28.4,-1.95),(-29.1,-2.65),(-29.35,-2.15)],
 [(-28.25,-1.65),(-27.55,-1.55),(-27.05,-2.35),(-27.8,-2.15)],[(-26.3,-.1),(-25.8,.2),(-25.4,-.65),(-26.3,-.65)],
 [(-27.65,-.95),(-27.3,-.75),(-27.1,-1.35),(-27.4,-1.45)],[(-27.2,.7),(-26.35,1),(-26.1,.4),(-26.6,.5)],
 [(-25.25,.5),(-24.4,.8),(-23.8,.3),(-23.2,-.1),(-22.6,.1),(-21.4,.1),(-22,-.5),(-22.2,-1.15),(-21.25,-2.15),(-20.15,-2.95),(-20.15,-3.15),(-21.25,-2.65),(-22,-1.95),(-22.7,-1.45),(-23.3,-.75),(-24.4,-.65)],
 [(-22.1,1.1),(-21.25,1.1),(-20.75,.9),(-21.25,.3),(-21.6,.7)],[(-23.9,-1.35),(-23.3,-1.25),(-22.9,-1.85),(-23.3,-2.05)],
 [(-23.8,-4.3),(-23.15,-4.3),(-23.25,-4.9),(-23.65,-4.9)],[(-27.9,3.5),(-26.35,4),(-25.9,3.3),(-27.05,3.3),(-27.8,2.9)],
 [(-30.95,2.7),(-30.1,3.1),(-28.9,2.2),(-29.25,2),(-30.2,2.3)],[(-21,2.35),(-20.55,2.35),(-20.5,2),(-20.8,2)],
 [(-32.15,3.5),(-31.3,3.9),(-30.45,4.35),(-29.25,5.85),(-27.8,6.05),(-27.65,5.35),(-28.75,4.15),(-30.45,3.7),(-31.3,3.1)],
 [(-36,4.75),(-35.4,4.85),(-34.8,4.35),(-32.85,4.65),(-32.75,5.45),(-31.55,5.85),(-31.65,5.35),(-32.6,4.55),(-33.8,4),(-35,4),(-35.9,4.15)],
 [(-21.85,5.85),(-20.05,6.15),(-20.05,4.95),(-20.75,4.85),(-21.25,5.45)],
 [(-36.4,-8.85),(-35.65,-8.25),(-35.3,-8.65),(-35.75,-9.75),(-37,-10.45),(-36.5,-9.45)],
 [(-38,-12.55),(-37.9,-11.65),(-37.05,-10.65),(-36.55,-10.05),(-35.95,-8.95),(-35.25,-8.2),(-34.9,-8.95),(-35.5,-9.95),(-34.4,-10.25),(-33.3,-8.5),(-31.25,-8.95),(-29.7,-9.15),(-28.1,-9.75),(-28.7,-9.85),(-29.95,-9.75),(-31.85,-10.35),(-33.2,-10.35),(-33.3,-10.85),(-33.65,-11.55),(-31.15,-11.75),(-31.25,-12.75),(-32.6,-13.4),(-30.75,-13.4),(-28.6,-14.2),(-28.85,-14.6),(-30.9,-14.4),(-32.6,-14.2),(-32.45,-13.4),(-32.7,-12.75),(-33.65,-12.45),(-33.8,-11.55),(-35,-11.05),(-36.45,-11.35),(-36.7,-12.35)],
 [(-31.4,-10.75),(-30.65,-10.65),(-29.95,-10.75),(-28.7,-11.15),(-28,-11.45),(-27,-11.55),(-25.1,-12.05),(-23.65,-11.95),(-22.55,-12.55),(-22.55,-12.95),(-24.6,-13.05),(-27,-12.45),(-28.7,-11.85),(-30.2,-11.75),(-30.9,-11.2)],
 [(-38.5,-14.2),(-37.4,-13.8),(-36.55,-14.1),(-36.55,-15.1),(-37.4,-15.65),(-38.25,-15.4),(-38.5,-14.9)],
 [(-35.2,-14.1),(-34.4,-13.9),(-33.55,-14.2),(-34,-14.55),(-34.9,-14.5)],[(-33.45,-16),(-32.6,-15.8),(-31.4,-15.9),(-31.6,-16.2),(-33.3,-16.2)],
 [(-35.2,-17.75),(-34.9,-16.9),(-33.3,-16.8),(-33.3,-17.1),(-34.5,-17.45),(-35,-17.65)],[(-36.55,-18.65),(-36.1,-17.95),(-35.5,-17.85),(-36,-18.45)],
 [(-37.3,-20.05),(-36.95,-18.85),(-36,-18.75),(-36.7,-19.55)],
 [(-35,-19.35),(-33.3,-18.85),(-31.6,-19.25),(-30.4,-19.75),(-27.4,-19.95),(-27.5,-20.15),(-30.65,-20.15),(-32,-20.35),(-33.3,-19.85),(-34.9,-19.55)],
 [(-32.7,-21.5),(-30.9,-21.1),(-29.7,-21),(-29.7,-21.3),(-31.1,-21.5),(-32.35,-21.6)],
 [(-30.05,-18.95),(-29,-18.95),(-26.3,-19.25),(-24.6,-19.65),(-23.15,-20.25),(-23.65,-20.35),(-26.05,-19.65),(-28.45,-19.35),(-29,-19.15)],
 [(-30.15,-17.95),(-29.2,-17.45),(-26.8,-17.65),(-25.35,-18.15),(-25.1,-18.65),(-26.05,-18.55),(-27.75,-18.05),(-29.2,-17.9)],
 [(-29.3,-20.65),(-27.3,-20.25),(-26.3,-20.65),(-25.6,-21.25),(-26.55,-21.35),(-27.75,-21.05),(-29.2,-20.95)],
 [(-26.9,-22.1),(-24.6,-21.7),(-23.9,-21.2),(-22.2,-21.7),(-20,-21.8),(-20,-22.2),(-23.65,-22.2),(-26.3,-22.3)],
 [(-24.1,-18.35),(-21.7,-18.35),(-20,-19.45),(-20,-19.85),(-22.2,-19.15),(-23.65,-18.65)],
 [(-22.95,-17.25),(-21.95,-17.05),(-20.95,-17.55),(-21.1,-17.85),(-22.45,-17.75)],
 [(-26.3,-14.4),(-25.35,-14.4),(-24.85,-15.8),(-22.95,-16.5),(-23.65,-17.05),(-25.1,-16.6),(-26.05,-15.8),(-26.4,-15)],
 [(-25.2,-13.7),(-22.7,-14.1),(-21.6,-14.2),(-20.85,-15.7),(-20.75,-16.05),(-21.95,-15.7),(-23.15,-14.6),(-24.4,-14.2)],
 [(-27.65,-10.55),(-27,-10.45),(-25.7,-10.95),(-25.8,-11.1),(-27,-10.95)],[(-24.15,-11.15),(-22.7,-11.05),(-21,-11.45),(-21,-11.75),(-23.15,-11.55)],
 [(-28.7,-7.8),(-28.25,-7.7),(-26.95,-8.6),(-27,-8.8),(-28.25,-8.4)],[(-26.55,-8.95),(-25.95,-8.85),(-24.75,-9.45),(-24.85,-9.55),(-26.05,-9.35)],
 [(-22.9,-7.7),(-22.45,-7.7),(-22.5,-8.15)],[(-20.4,-12.45),(-20,-12.35),(-20,-12.75),(-20.25,-12.75)],
 [(-22.3,-23.8),(-21.9,-23.8),(-21.5,-24.3),(-21.85,-24.8),(-22.3,-24.4)],[(-24.75,-27),(-24.45,-27),(-24.6,-27.35)],
 [(-57.4,-25.55),(-56.7,-24.65),(-55.9,-25.15),(-55.5,-26.15),(-55.1,-26.95),(-55.5,-27.85),(-55.9,-27.35),(-57,-26.35)],
 [(-52.2,-29.4),(-49.2,-29.6),(-45.95,-30.5),(-43.5,-31.3),(-42.65,-32),(-42.8,-32.7),(-43.5,-32.9),(-44.85,-33.2),(-47.05,-32.2),(-49.45,-31.5),(-51.4,-31.2),(-52.5,-30.4)],
 [(-30.4,-38.3),(-28.2,-38.6),(-27.15,-39.1),(-27.5,-40),(-28.75,-40),(-30.4,-38.6)],
 [(-37.2,-33.4),(-36.7,-33),(-35.3,-32),(-34.2,-32.6),(-32.6,-33.6),(-29.85,-34.65),(-27.15,-35.85),(-24.7,-36.75),(-21.95,-37.85),(-20,-38.9),(-20,-39.9),(-21.95,-39.3),(-24.7,-38.3),(-28.5,-37.5),(-31.5,-36.65),(-34,-35.65),(-36.15,-34)],
 [(-43.2,-30),(-41.75,-30),(-41.85,-30.9),(-42.55,-31.2),(-43.2,-30.5)],
 [(-40.5,-30.3),(-39.15,-30.2),(-38.85,-30.5),(-38.3,-30.4),(-37.2,-31.6),(-37.5,-32.1),(-38.3,-31.6),(-39.15,-32),(-39.95,-31.3)],
 [(-40.75,-32.5),(-39.15,-32.7),(-38.6,-32.3),(-37.35,-32.8),(-37.1,-33.3),(-38.6,-33.1),(-39.55,-33)],
 [(-47.45,-27.75),(-46.9,-27.85),(-46.7,-28.35),(-47.3,-28.45)],[(-48.4,-27.85),(-47.75,-28.15),(-47.6,-28.55),(-48.4,-28.65)],
 [(-48.35,-25.55),(-47.85,-25.75),(-48,-26.15),(-48.35,-26.15)],[(-47.45,-29.6),(-46.65,-29.6),(-45.95,-30.1),(-46.8,-30.6),(-47.45,-30.3)],
 [(-55.5,-27.25),(-54.15,-26.85),(-52.9,-26.65),(-51.7,-27.35),(-50.6,-28.25),(-49.2,-28.55),(-49.45,-29.4),(-50.3,-29.7),(-52.75,-29.6),(-53.85,-29.5),(-54.7,-29.2)],
]
LIGHT_OVER = [
 [(-70.55,-6.7),(-69.35,-6.95),(-69.1,-7.75),(-70.1,-7.75),(-70.7,-7.45)],
 [(-72.6,-6.3),(-72,-6.1),(-72.25,-7),(-72.75,-7.45)],
 [(-66.1,3.9),(-65.2,3.8),(-65,3),(-65.5,2.8),(-66,3.2)],
 [(-73.8,-2.9),(-73.3,-3),(-73.4,-3.4),(-73.8,-3.4)],
 [(-30.2,9.3),(-29.1,9.45),(-28.25,9),(-28.75,8.4),(-29.95,8.6)],
 [(-37.7,9),(-36.75,9.3),(-36.1,8.6),(-37.2,8.5)],
 [(-27.6,9.4),(-26.75,9.4),(-26.6,8.9),(-27.5,8.8)],
 [(-39.15,10),(-37.45,10),(-38.05,9.5),(-38.8,9.6)],
 [(-20.5,8.8),(-20,8.8),(-20,8.2),(-20.5,8.3)],
 [(-21.85,7.85),(-21.35,7.85),(-21.5,7.45)],[(-20.65,7.85),(-20.15,7.85),(-20.25,7.6)],
]
DARK_SHAPES = [
 [(-73.85,-9.85),(-73.45,-9.85),(-73.35,-10.7),(-73.7,-10.75)],[(-71.65,-11.4),(-71.4,-11.5),(-71.55,-11.8)],
 [(-67.9,-17.95),(-67.4,-17.45),(-67.3,-18.05),(-67.65,-18.15)],[(-67.3,-16.75),(-66.95,-16.85),(-67.05,-17)],
 [(-46,9.5),(-45,9.6),(-45,9.3),(-45.9,9.2)],
 [(-40.7,7.15),(-40.4,7.25),(-40.4,6.95),(-40.7,6.85)],[(-34.35,4.55),(-33.45,4.65),(-33.45,4.45),(-34.2,4.35)],
 [(-31.65,3.6),(-31.05,3.75),(-31.3,3.4)],[(-35.05,-2.15),(-34.55,-2.15),(-33.2,-3.25),(-33.6,-3.45)],
 [(-35.4,-5.3),(-34.9,-5.7),(-35.05,-6)],[(-33.6,-9.65),(-33.15,-9.55),(-33.1,-9.85),(-33.6,-9.9)],
 [(-31.3,-9.15),(-30.8,-9.15),(-30.7,-9.35),(-31.25,-9.35)],[(-30.55,-11.05),(-29.55,-11),(-28.6,-11.55),(-28.85,-11.85),(-29.8,-11.75)],
 [(-26.4,-12.2),(-25.85,-12.2),(-25.7,-12.55),(-26.3,-12.55)],[(-37.8,-14.2),(-37.3,-14.2),(-37.55,-14.45)],
 [(-32.45,-19.55),(-31.85,-19.65),(-31.4,-19.95),(-28.85,-19.85),(-28.7,-20.1),(-31.4,-20.1),(-32,-19.95)],
 [(-25.45,-21.9),(-24.6,-21.9),(-24.6,-22.1),(-25.45,-22.1)],[(-25.3,-16.15),(-24.6,-16.15),(-23.9,-16.5),(-24.6,-16.6)],
 [(-24.5,-14),(-23.4,-14.2),(-22.3,-14.5),(-22.7,-14.7),(-23.65,-14.4)],[(-21.6,-18.9),(-21.2,-19),(-21.4,-19.25)],
 [(-27.15,-38.6),(-25.8,-38.9),(-25.65,-40),(-27.4,-40),(-27,-39.5)],[(-26.55,-36.65),(-25.8,-36.85),(-24.3,-38),(-25,-38.2),(-25.8,-37.65)],
 [(-54.2,-28.8),(-53.6,-28.8),(-53.6,-29.6),(-53.9,-29.5)],
]
INDIGO_SHAPES = [
 [(-68.75,6.55),(-67.9,7.15),(-67.55,7.85),(-66.8,8.3),(-65.85,7.85),(-64.9,7.85),(-64.3,8.2),(-63.7,7.45),(-62.6,7.35),(-61.6,6.65),(-60.9,6.15),(-60.15,6.15),(-59.95,6.05),(-61.15,5.65),(-61.25,4.95),(-61.75,5.05),(-61.85,5.85),(-62.85,5.95),(-63.55,6.65),(-64.3,6.45),(-64.5,5.65),(-65,6.15),(-65.25,6.85),(-66.2,7.35),(-67.2,7.45),(-67.65,6.65),(-68.15,5.45),(-68.65,5.75)],
 [(-75.5,9.9),(-71.8,10),(-71.55,8.6),(-72.25,8.1),(-73.1,7.55),(-72.75,6.65),(-73.6,6.35),(-74.2,5.45),(-74.55,4.65),(-74.55,3.9),(-74.9,3.6),(-75.4,4.25),(-75.4,4.95),(-76.15,5.15),(-76.5,4.35),(-76.6,3.5),(-77.1,2.6),(-77.6,2.7),(-77.35,3.7),(-77.45,4.55),(-77.7,4.75),(-78.3,5.35),(-79,6.05),(-79.25,6.65),(-78.65,6.75),(-77.95,6.45),(-77.45,6.25),(-77.45,5.35),(-77,5.05),(-76.15,5.45),(-75.4,5.75),(-75.4,6.95),(-74.8,7.15),(-74.55,6.65),(-74.05,7.65),(-74.7,8.2),(-75.4,8.4)],
 [(-77.95,7.85),(-77.45,7.85),(-76.85,7.15),(-77.35,6.85)],[(-76.85,6.45),(-76.6,6.15),(-77,5.95),(-77.15,6.25)],
 [(-71.65,8.1),(-71.3,7.9),(-71.3,7.35),(-70.55,7.05),(-70.7,6.65),(-71.55,6.25),(-71.8,5.65),(-72.25,5.75),(-72.15,6.65),(-71.9,7.35)],
 [(-70.7,8.2),(-70.45,8.2),(-70.55,7.9),(-70.85,8)],[(-70.3,6.35),(-69.7,6.35),(-69.6,5.75),(-69.95,5.45),(-70.45,5.85)],
 [(-73.25,4.95),(-72.5,5.15),(-71.8,4.65),(-71.65,4.05),(-72.15,4.05),(-72.5,4.45),(-73.1,4.15),(-73.6,4.55)],
 [(-74.05,3.7),(-73.6,3.6),(-73.1,3.6),(-72.75,3),(-72,2.4),(-72.25,1.8),(-73,2.3),(-73.35,2.7),(-74.05,2.5),(-74.45,2),(-75.15,1.9),(-75.3,2.2),(-74.55,2.6),(-74.3,3.3)],
 [(-71.65,2.3),(-71.4,2.3),(-71.4,2),(-71.7,2.05)],[(-70.8,2.7),(-70.45,2.6),(-70.3,2.2),(-70.1,1.7),(-70.3,1.5),(-70.7,2)],
 [(-75.65,1.3),(-74.2,1.3),(-74.45,.7),(-74.8,.1),(-75.05,.6),(-75.5,.8)],
 [(-68.9,3.8),(-68.15,3.9),(-68,4.55),(-67.65,4.95),(-67.2,4.55),(-67.4,3.7),(-67.65,2.9),(-68.15,2.4),(-68.5,3.3)],
 [(-69.95,2.9),(-69.25,3),(-68.75,2.5),(-69.35,2.4),(-69.85,2.6)],[(-66.8,3.5),(-66.2,3.7),(-66.2,3.2),(-66.7,3)],
 [(-65.6,2.6),(-65.1,2.6),(-65,2.1),(-65.35,2)],[(-66.45,1.9),(-66,1.9),(-66,1.6),(-66.4,1.55)],[(-64.75,3.8),(-64.4,3.7),(-64.3,3.3),(-64.65,3.3)],
 [(-79.4,-.2),(-78.9,-.2),(-79,-.55),(-79.3,-.55)],[(-72.5,0),(-72,-.2),(-72.15,-.55),(-72.6,-.35)],[(-69.5,-.75),(-69.1,-.85),(-69.1,-1.25),(-69.5,-1.25)],
 [(-74.8,-1.1),(-74.45,-1.15),(-74.5,-1.5),(-74.8,-1.45)],
 [(-75.9,-1.95),(-75.15,-1.75),(-74.2,-1.95),(-73.45,-1.95),(-72.85,-1.65),(-72,-2.35),(-71.4,-3.15),(-71.65,-3.75),(-71.9,-4.45),(-72.75,-4.55),(-73,-4.05),(-73.85,-3.95),(-74.45,-3.55),(-75.75,-3.55),(-75.65,-3.15),(-74.45,-2.95),(-74.8,-2.55),(-75.9,-2.65)],
 [(-78.55,-4.9),(-78,-4.9),(-77.7,-5.3),(-78.2,-5.4)],
 [(-77,-5.5),(-76.15,-5),(-75.3,-5.1),(-74.7,-5.7),(-74.2,-5.5),(-74.55,-6.2),(-74.9,-6.45),(-74.3,-7.45),(-75.05,-7.75),(-75.65,-7.55),(-76.25,-7.15),(-76.75,-7.25),(-76.85,-7.75),(-77.35,-7.45),(-77.6,-6.95),(-77.2,-6.5),(-76.85,-6.3)],
 [(-73.6,-4.9),(-73.1,-5),(-73.1,-5.3),(-73.5,-5.3)],[(-73.6,-5.7),(-73.1,-5.7),(-73.25,-6.7),(-73.65,-6.7)],
 [(-72.25,-4.8),(-71.55,-4.8),(-71.65,-5.3),(-72.15,-5.3)],
 [(-71.65,-6.2),(-71.15,-6.1),(-71.15,-6.65),(-71.3,-7.25),(-70.7,-7.25),(-70.7,-7.55),(-71.3,-7.55),(-72,-7.45),(-71.55,-6.85)],
 [(-74.2,-8.65),(-73.6,-8.65),(-73.35,-9.15),(-73.6,-9.8),(-73.95,-9.55)],[(-75.15,-7.95),(-74.55,-8.25),(-74.2,-8.75),(-74.7,-8.65),(-75.15,-8.25)],
 [(-76.25,-9.15),(-75.65,-8.95),(-75.65,-9.25),(-76.15,-9.45)],[(-73.45,-11.3),(-73,-11.1),(-72.75,-11.6),(-73,-12),(-73.45,-11.8)],
 [(-72.75,-15.25),(-72.15,-15),(-71.4,-15.25),(-70.55,-15.65),(-69.85,-15.75),(-69.6,-15.45),(-69.25,-15.65),(-68.65,-16.05),(-68.15,-16.65),(-67.9,-17.25),(-68.4,-17.45),(-69.1,-17.05),(-69.85,-16.65),(-70,-16.05),(-70.8,-15.85),(-71.65,-15.65),(-72.25,-15.45),(-72.75,-15.45)],
 [(-67.05,-17.75),(-66.55,-17.55),(-65.75,-18.45),(-64.9,-19.2),(-65.25,-19.6),(-65.75,-19.4),(-66.55,-18.8),(-66.95,-18.25)],
 [(-42,9.9),(-39.65,9.9),(-40.1,9.4),(-38.4,9),(-39.4,8.6),(-41.55,8.1),(-42.55,8.7),(-41.8,9.4)],
 [(-37.95,10),(-20,10),(-20,5.95),(-21.6,5.85),(-22.1,6.35),(-22.6,6.85),(-23.9,6.95),(-25.6,6.75),(-26.35,6.85),(-27.05,7.35),(-27.4,6.75),(-29,6.65),(-29.35,6.95),(-28.5,7.35),(-28,8),(-30.2,7.55),(-31.15,7.65),(-31.65,7.65),(-32.15,7.15),(-32.05,6.85),(-33.35,6.45),(-34.65,6.25),(-35,6.55),(-34.45,6.95),(-35.15,7.65),(-36,7.9),(-36.95,8),(-37.85,7.65),(-37.95,8),(-37.1,8.3),(-36,8.5),(-36.25,9),(-37.45,9.3),(-38.2,8.8),(-39.15,8.8),(-38.8,9.6)],
 [(-41.3,5.85),(-40.8,6),(-40.85,5.7),(-41.3,5.65)],
 [(-29.6,4.85),(-28.75,5.45),(-27.9,5.65),(-28,5.15),(-28.75,4.65),(-29.35,4.5)],
 [(-33.6,5.15),(-32.6,5.85),(-32,5.85),(-32,5.45),(-32.75,4.95),(-33.45,4.85)],
 [(-37.9,-12.45),(-37.65,-11.75),(-37.15,-11.45),(-37.05,-12.35)],[(-37.05,-10.95),(-36.55,-10.55),(-36.25,-10.45),(-36.3,-10.85),(-36.8,-11.05)],
 [(-30.2,-11.15),(-29.45,-11.1),(-28.85,-11.55),(-29.1,-11.7),(-29.8,-11.6)],[(-30.75,-19.95),(-28.95,-19.9),(-28.85,-20.05),(-30.65,-20.05)],
 [(-23.65,-14.15),(-23.05,-14.15),(-22.55,-14.5),(-23.15,-14.5)],
 [(-57,-25.75),(-56.6,-25.35),(-55.9,-26.05),(-56.2,-26.25),(-55.65,-26.85),(-55.65,-27.1),(-56.2,-26.95),(-56.45,-26.25)],
 [(-53.05,-29.4),(-52.05,-29.5),(-50.85,-29.6),(-49.45,-29.9),(-47.6,-30.5),(-44.85,-31.1),(-43.2,-31.6),(-42.9,-32.1),(-43.2,-32.6),(-44.55,-32.2),(-46.2,-31.7),(-47.6,-31.5),(-49.45,-31.2),(-51.1,-30.6),(-51.95,-30.2)],
 [(-43.5,-33.2),(-42.95,-33),(-42.15,-33.4),(-39.95,-34),(-37.75,-34.75),(-36.15,-35.25),(-34.25,-35.95),(-32.3,-36.65),(-30.15,-37.5),(-29.2,-38),(-28.5,-38),(-25.2,-38.6),(-23.3,-38.9),(-21.4,-39.5),(-20,-40),(-25.5,-40),(-25.5,-39.1),(-27.15,-38.6),(-29.6,-38),(-32.3,-37.35),(-34.25,-37.05),(-36.15,-36.45),(-38.05,-36.05),(-40.25,-35.25),(-41.9,-34.25),(-43.2,-33.75)],
 [(-37.2,-33.4),(-36.15,-33.4),(-35.05,-33.6),(-33.4,-33.85),(-31.5,-34.55),(-29.85,-35.05),(-27.7,-35.85),(-26.3,-36.65),(-25.1,-38),(-25.8,-37.85),(-27.4,-37.25),(-29.6,-36.65),(-31.5,-35.85),(-32.6,-35.45),(-33.15,-34.65),(-35.05,-34.15),(-36.15,-33.85),(-36.9,-33.6)],
 [(-47.3,-29.8),(-46.8,-29.7),(-46.55,-30.1),(-46.9,-30.4),(-47.3,-30.1)],
 [(-55.5,-27.4),(-54.95,-27.4),(-54.95,-27.9),(-55.5,-27.9)],[(-54.8,-27.8),(-54.3,-27.7),(-53.85,-28.75),(-54.4,-29.05),(-54.8,-28.5)],
 [(-53.85,-27.4),(-52.9,-27.3),(-52.65,-28.15),(-51.7,-28.75),(-52.1,-29.2),(-52.9,-29),(-53.6,-28.25)],
 [(-51.8,-28.15),(-50.3,-28.35),(-49.75,-28.7),(-50.15,-29.2),(-51.15,-28.8),(-51.8,-28.45)],[(-53.6,-26.75),(-52.9,-26.85),(-53.05,-27.15),(-53.6,-27.15)],
]
ROYAL_SHAPES = [
 [(-66.8,8),(-65.85,7.85),(-64.9,7.45),(-65.85,7.55),(-66.8,7.65)],[(-73.95,-2.55),(-73,-2.35),(-72.25,-2.95),(-73.45,-3.15)],
 [(-41.55,9.7),(-40.1,9.7),(-40.4,9.3),(-41.3,9.2)],[(-35,9.6),(-30.6,9.6),(-29.6,8),(-31,7.95),(-35,8.4),(-36.4,8.7)],
 [(-42.15,-33.6),(-40.5,-33.9),(-37.75,-34.75),(-35.05,-35.65),(-32.6,-36.55),(-31.5,-36.85),(-34.25,-36.65),(-36.7,-35.95),(-39.7,-35.05),(-41.3,-34.3)],
]
BLUE_SHAPES = [
 [(-64.9,7.45),(-64.3,7.65),(-63.9,6.65),(-64.5,6.35),(-65,6.75)],[(-63.45,6.95),(-62.6,6.75),(-61.75,6.15),(-62.35,5.95),(-63.2,6.35)],
 [(-75.4,8.8),(-74.45,9.1),(-73.6,9),(-73.35,9.6),(-72.25,9.6),(-71.65,8.8),(-72.5,8.2),(-73.45,7.75),(-73.85,8.4),(-74.7,8),(-75.4,8.2)],
 [(-79.15,6.55),(-78.55,6.55),(-77.95,6.25),(-77.6,5.65),(-77.6,4.55),(-77.95,4.95),(-78.3,5.65),(-78.9,6.15)],
 [(-75.4,6.95),(-74.8,6.95),(-74.55,5.65),(-74.55,4.15),(-74.9,3.7),(-75.3,4.15),(-75.4,5.75)],
 [(-77.2,5.15),(-76.25,5.45),(-75.4,5.65),(-75.4,5.05),(-76.15,5.15),(-76.6,4.15),(-76.85,3),(-77.35,3),(-77.1,4.35)],
 [(-75.15,-3.15),(-74.2,-3.05),(-73.95,-3.45),(-74.8,-3.65),(-75.3,-3.45)],[(-73.25,-3.65),(-72.75,-3.75),(-72.6,-4.3),(-73.1,-4.3),(-73.45,-4)],
 [(-76,-5.6),(-75.3,-5.6),(-74.9,-6.1),(-75.5,-6.3)],[(-76.85,-6.2),(-76.4,-6.1),(-76.4,-6.75),(-76.85,-6.75)],
 [(-68.5,3.4),(-67.9,3.5),(-68,2.9),(-68.4,2.8)],
 [(-69.6,-16.15),(-68.75,-16.15),(-68.25,-16.75),(-68.15,-17.15),(-68.75,-16.95),(-69.5,-16.65)],
 [(-66.75,-17.95),(-66.35,-17.95),(-65.75,-18.8),(-66.05,-18.9),(-66.55,-18.45)],
 [(-42,8.6),(-39.15,9.5),(-38.65,9),(-40.1,8.6),(-41.55,8.3)],[(-37,9.7),(-32.15,9.9),(-32.6,9.4),(-35.5,9.4),(-36.5,9.2)],
 [(-33.8,8),(-32.35,8.3),(-32.15,8),(-33.35,7.15),(-33.6,7.25)],[(-26.35,9.8),(-20,9.9),(-20,6.65),(-21.75,6.95),(-24.15,7.55),(-26.1,7.25),(-25.6,8.4)],
 [(-29.1,5.05),(-28.4,5.35),(-28.4,5.15),(-29,4.85)],
 [(-51.4,-30.1),(-49.75,-30),(-48.15,-30.6),(-45.95,-31.3),(-45,-31.6),(-45.95,-31.5),(-48.15,-31.3),(-49.5,-31.1),(-50.85,-30.7)],
 [(-41.05,-34.1),(-39.7,-34.25),(-37.75,-34.95),(-36.15,-35.45),(-34.25,-36.15),(-32.85,-36.65),(-35.05,-36.45),(-37.2,-35.85),(-39.7,-35.15),(-40.75,-34.65)],
 [(-32.85,-34.75),(-31.75,-34.65),(-30.55,-35.05),(-29.05,-36.05),(-27.7,-36.85),(-29.05,-36.45),(-31,-35.85),(-32.3,-35.35)],
 [(-52.75,-28.75),(-52.1,-28.75),(-52.1,-29.05),(-52.7,-29.05)],
]
ROYAL_OVER = [[(-24.7,9.2),(-22.2,9.4),(-21.25,8.4),(-23.2,8.2),(-24.9,8)]]
TEAL_SHAPES = [
 [(-73.45,8.9),(-72.75,9.7),(-72,9.1),(-72.15,8.6),(-72.75,8.1),(-73.35,8.3)],
 [(-75.2,6.15),(-74.9,6.35),(-74.7,5.65),(-74.85,5.05),(-75.15,5.45)],
 [(-73.65,7.35),(-73.25,7.05),(-73.4,6.85)],[(-64.8,7),(-64.5,7.05),(-64.65,6.85)],
 [(-73.3,-3.9),(-72.9,-3.9),(-72.9,-4.1),(-73.3,-4.1)],[(-76.65,-6.4),(-76.4,-6.4),(-76.4,-6.65),(-76.65,-6.65)],
 [(-69.5,-16.25),(-68.75,-16.25),(-68.3,-16.85),(-68.35,-17),(-68.8,-16.9),(-69.4,-16.6)],
 [(-66.45,-18.25),(-66.2,-18.25),(-66.2,-18.55)],
 [(-32.1,9.6),(-31.55,9.6),(-31.55,9.3),(-32.05,9.3)],[(-24.3,7.45),(-23.65,7.35),(-23.8,7.15)],
 [(-22.85,7.35),(-22.1,7.15),(-22.1,6.95),(-22.85,7.05)],[(-21.85,6.9),(-20.05,6.65),(-20.05,6.4),(-21.6,6.35)],
 [(-39,-35),(-38.5,-35),(-38.5,-35.1),(-39,-35.1)],
]
GREEN_SHAPES = [
 [(-73.25,8.8),(-72.8,9.4),(-72.25,9.05),(-72.45,8.5),(-72.85,8.2),(-73.25,8.4)],
 [(-75.1,6.05),(-74.9,6.15),(-74.8,5.65),(-74.95,5.25),(-75.1,5.55)],
 [(-69.35,-16.3),(-68.75,-16.35),(-68.35,-16.85),(-68.75,-16.85),(-69.25,-16.55)],
]
TOP_WHITE = [
 [(-75.9,-6.5),(-75.3,-6.6),(-74.8,-7.45),(-75.3,-7.15)],[(-35.3,-35),(-34.75,-35),(-34.1,-35.45),(-34.6,-35.45)],
 [(-46.8,-28.7),(-46.1,-28.7),(-46.25,-28.85)],[(-46.3,-29.4),(-45.6,-29.7),(-45.9,-29.75)],[(-45.3,-30),(-44.9,-30.3),(-45.2,-30.3)],
]
HOT_LON, HOT_LAT = -72.87, 8.64
HOT_WIDTHS = [0.76, 0.62, 0.50, 0.40, 0.30]
HOT_COLORS = [LIME, YELLOW, RED, CRIM, BLACKRED]

p = figure(width=1300, height=1000, x_range=(-80, -20), y_range=(-40, 10),
           output_backend="svg", toolbar_location=None,
           min_border_left=237, min_border_right=236, min_border_top=88, min_border_bottom=89,
           background_fill_color="white", border_fill_color="white",
           styles={"position": "absolute", "left": "0px", "top": "0px"})
p.outline_line_color = "black"
p.outline_line_width = 2

for ax, ticks, labels, standoff in ((p.xaxis[0], X_TICKS, X_LABELS, 0), (p.yaxis[0], Y_TICKS, Y_LABELS, 5)):
    ax.ticker = FixedTicker(ticks=ticks)
    ax.major_label_overrides = dict(zip(ticks, labels))
    ax.major_tick_in = 0
    ax.major_tick_out = 5
    ax.minor_tick_out = 0
    ax.minor_tick_in = 0
    ax.axis_line_color = "black"
    ax.axis_line_width = 2
    ax.major_tick_line_color = "black"
    ax.major_tick_line_width = 1.5
    ax.major_label_text_font = "Open Sans"
    ax.major_label_text_font_size = "16px"
    ax.major_label_text_color = "black"
    ax.major_label_standoff = standoff

p.xgrid.ticker = FixedTicker(ticks=X_TICKS)
p.ygrid.ticker = FixedTicker(ticks=Y_TICKS)
p.xgrid.level = "annotation"
p.ygrid.level = "annotation"
p.xgrid.grid_line_color = "#aaaaaa"
p.ygrid.grid_line_color = "#aaaaaa"
p.xgrid.grid_line_width = 1.5
p.ygrid.grid_line_width = 1.5
p.xgrid.grid_line_dash = "2 9"
p.ygrid.grid_line_dash = "3 4"

def cols(shapes):
    return [[q[0] for q in s] for s in shapes], [[q[1] for q in s] for s in shapes]

def paint(shapes, color, width=1):
    xs, ys = cols(shapes)
    p.patches(xs, ys, fill_color=color, line_color=color, line_width=width, line_join="round")

paint(LIGHT_SHAPES, LIGHT)
paint(WHITE_GAPS, WHITE)
paint(MEDIUM_SHAPES, LIGHT, 7)
paint(MEDIUM_SHAPES, MED)
paint(DARK_SHAPES, MED, 6)
paint(INDIGO_SHAPES, MED, 13)
paint(LIGHT_OVER, LIGHT)
paint(DARK_SHAPES, DARK)
paint(INDIGO_SHAPES, DARK, 5)
paint(INDIGO_SHAPES, INDIGO)
paint(BLUE_SHAPES, ROYAL, 4)
paint(ROYAL_SHAPES, ROYAL)
paint(BLUE_SHAPES, BLUE)
paint(ROYAL_OVER, ROYAL)
paint(TEAL_SHAPES, TEAL)
paint(GREEN_SHAPES, GREEN)
p.ellipse([HOT_LON]*5, [HOT_LAT]*5, width=HOT_WIDTHS, height=[w*0.85 for w in HOT_WIDTHS],
          fill_color=HOT_COLORS, line_color=None)
paint(TOP_WHITE, WHITE)

xs, ys = cols(BORDERS)
p.multi_line(xs, ys, line_color="black", line_width=1.7, line_join="round", level="overlay")
xs, ys = cols(COAST)
p.multi_line(xs, ys, line_color="black", line_width=2.6, line_join="round", level="overlay")

def overlay(spacing):
    f = figure(width=1300, height=1000, x_range=(0, 1300), y_range=(1000, 0), x_axis_type=None, y_axis_type=None,
               output_backend="svg", toolbar_location=None, min_border=0,
               background_fill_color=None, border_fill_color=None, outline_line_color=None,
               styles={"position": "absolute", "left": "0px", "top": "0px", "letter-spacing": f"{spacing}px"})
    f.grid.visible = False
    return f

def text(f, x, y, s, size, font="Open Sans"):
    f.add_layout(Label(x=x, y=y, x_units="canvas", y_units="canvas", text=s, text_font=font,
                       text_font_size=f"{size}px", text_align="left", text_baseline="middle",
                       text_color="black"))

title_layer = overlay(3.0)
text(title_layer, 64, 21, TITLE_1, 34, "Open Sans Light")
text(title_layer, 315, 56, TITLE_2, 34, "Open Sans Light")

fonte_layer = overlay(5)
text(fonte_layer, 0, 965, "FONTE: GFS-NCEP", 25, "Open Sans Light")

note_layer = overlay(3.0)
text(note_layer, 827, 961, "Modelo GFS : 25 km x 25 km", 16)
text(note_layer, 827, 987, "SEMARH-AL : Sala de Alerta", 16)

bar_layer = overlay(1)
text(bar_layer, 6, 988, "GrADS/COLA", 15.5)

BAR_LEFT, BAR_RIGHT, BAR_STEP, BAR_BASE, BAR_TOP, BAR_BOTTOM = 1123, 1146, 38.07, 785.7, 175, 823
rad = (BAR_RIGHT - BAR_LEFT) / 2
cx = (BAR_LEFT + BAR_RIGHT) / 2
n = len(LEVEL_COLORS)
bar_xs, bar_ys = [], []
for i in range(n):
    y_low = BAR_BASE - (i - 1) * BAR_STEP
    y_high = BAR_BASE - i * BAR_STEP
    if i == 0:
        bx = [BAR_LEFT, BAR_RIGHT] + [cx + rad*math.cos(t*math.pi/12) for t in range(13)]
        by = [y_high, y_high] + [BAR_BOTTOM - rad + rad*math.sin(t*math.pi/12) for t in range(13)]
    elif i == n - 1:
        bx = [BAR_LEFT, BAR_RIGHT] + [cx + rad*math.cos(t*math.pi/12) for t in range(13)]
        by = [y_low, y_low] + [BAR_TOP + rad - rad*math.sin(t*math.pi/12) for t in range(13)]
    else:
        bx = [BAR_LEFT, BAR_RIGHT, BAR_RIGHT, BAR_LEFT]
        by = [y_low, y_low, y_high, y_high]
    bar_xs.append(bx)
    bar_ys.append(by)
bar_layer.patches(bar_xs, bar_ys, fill_color=LEVEL_COLORS, line_color="black", line_width=2)
for i, lab in enumerate(LEVEL_LABELS):
    text(bar_layer, 1154, BAR_BASE - i * BAR_STEP - 1, lab, 21)

open("out.html", "w").write(file_html((p, title_layer, fonte_layer, note_layer, bar_layer), INLINE))
